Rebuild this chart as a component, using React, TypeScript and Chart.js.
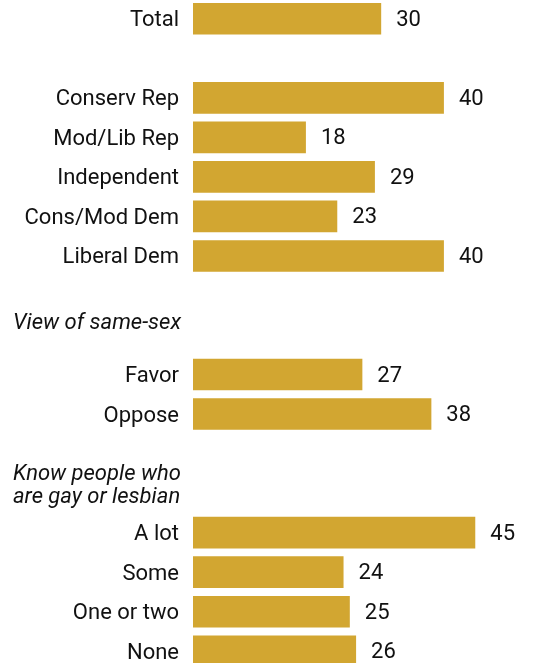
import React, { useEffect, useRef } from "react";
import { Chart, registerables } from "chart.js";

Chart.register(...registerables);

const categories: string[] = [
  "Total", "",
  "Conserv Rep", "Mod/Lib Rep", "Independent", "Cons/Mod Dem", "Liberal Dem",
  "", "",
  "Favor", "Oppose",
  "", "",
  "A lot", "Some", "One or two", "None",
];
const values: (number | null)[] = [
  30, null,
  40, 18, 29, 23, 40,
  null, null,
  27, 38,
  null, null,
  45, 24, 25, 26,
];
const headerSlots: number[] = [8, 12];
const headerLines: string[][] = [["View of same-sex"], ["Know people who", "are gay or lesbian"]];

const FONT = "Roboto, 'Liberation Sans', Arial, sans-serif";
const BAR_COLOR = "#d2a631";
const TEXT_COLOR = "#111111";

const labelPlugin = {
  id: "labelPlugin",
  afterDatasetsDraw(chart: any) {
    const ctx = chart.ctx;
    const meta = chart.getDatasetMeta(0);
    const yScale = chart.scales.y;
    ctx.save();
    ctx.fillStyle = TEXT_COLOR;
    ctx.font = `22px ${FONT}`;
    ctx.textAlign = "left";
    ctx.textBaseline = "middle";
    meta.data.forEach((bar: any, i: number) => {
      const v = values[i];
      if (v === null || v === undefined) return;
      ctx.fillText(String(v), bar.x + 15, bar.y + 1.5);
    });
    ctx.font = `italic 22px ${FONT}`;
    headerSlots.forEach((slot, h) => {
      const lines = headerLines[h];
      const cy = yScale.getPixelForValue(slot);
      if (lines.length === 1) {
        ctx.fillText(lines[0], 13, cy - 11.5);
      } else {
        ctx.fillText(lines[0], 13, cy - 18.5);
        ctx.fillText(lines[1], 13, cy + 4);
      }
    });
    ctx.restore();
  },
};

export default function App() {
  const ref = useRef<HTMLCanvasElement>(null);
  useEffect(() => {
    if (!ref.current) return;
    const chart = new Chart(ref.current, {
      type: "bar",
      data: {
        labels: categories,
        datasets: [
          {
            data: values as any,
            backgroundColor: BAR_COLOR,
            borderWidth: 0,
            barPercentage: 0.8,
            categoryPercentage: 1,
          },
        ],
      },
      options: {
        indexAxis: "y",
        animation: false,
        responsive: false,
        layout: { padding: { left: 0, right: 4, top: 0, bottom: 0 } },
        plugins: { legend: { display: false }, tooltip: { enabled: false } },
        scales: {
          x: { display: false, min: 0, max: 55 },
          y: {
            grid: { display: false, drawTicks: false },
            border: { display: false },
            ticks: {
              padding: 14,
              labelOffset: 2,
              color: TEXT_COLOR,
              font: { family: FONT, size: 22 },
              autoSkip: false,
            },
            afterFit: (scale: any) => {
              scale.width = 193;
              scale.paddingTop = 0;
              scale.paddingBottom = 0;
            },
          },
        },
      },
      plugins: [labelPlugin],
    });
    return () => chart.destroy();
  }, []);
  return (
    <div style={{ position: "absolute", left: 0, top: -1, width: 542, height: 672 }}>
      <canvas ref={ref} width={542} height={672} style={{ display: "block" }} />
    </div>
  );
}
